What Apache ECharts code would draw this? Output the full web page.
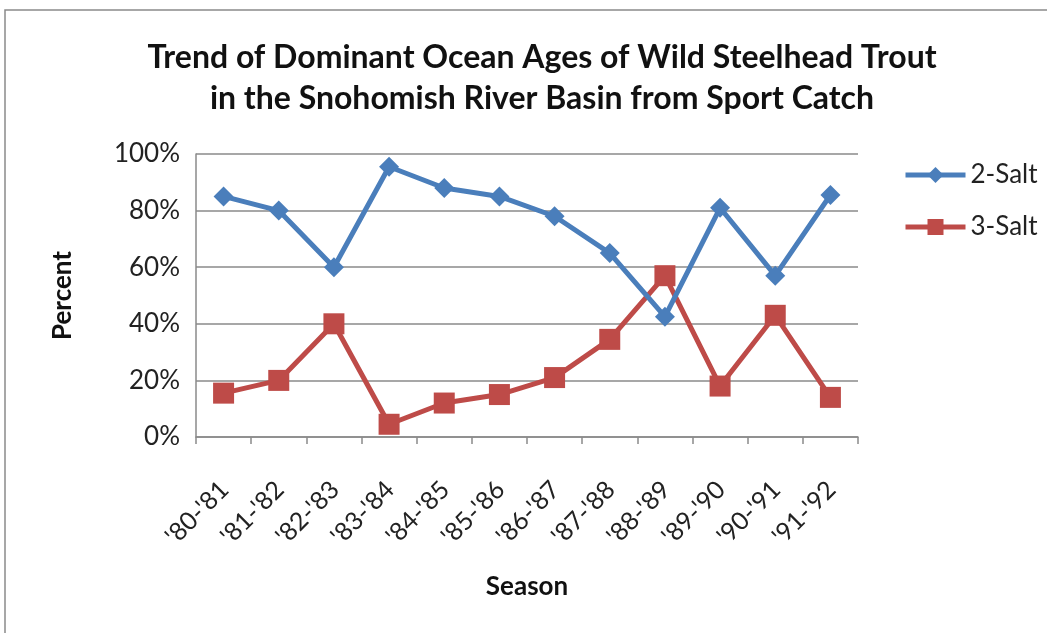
<!DOCTYPE html>
<html>
<head>
<meta charset="utf-8">
<script src="https://cdn.jsdelivr.net/npm/echarts@6/dist/echarts.min.js"></script>
<style>
  html, body { margin: 0; padding: 0; background: #ffffff; }
  #chart { width: 1047px; height: 633px; }
</style>
</head>
<body>
<div id="chart"></div>
<script>
// Seasons of sport catch
const seasons = ["'80-'81", "'81-'82", "'82-'83", "'83-'84", "'84-'85", "'85-'86",
                 "'86-'87", "'87-'88", "'88-'89", "'89-'90", "'90-'91", "'91-'92"];
// Share of catch by ocean age (percent)
const twoSalt = [85, 80, 60, 95.5, 88, 85, 78, 65, 42.5, 81, 57, 85.5];
const threeSalt = [15.5, 20, 40, 4.5, 12, 15, 21, 34.5, 57, 18, 43, 14];
// Value-axis ticks
const percentTicks = [0, 20, 40, 60, 80, 100];

const FONT = 'Lato';
const BLUE = '#4A7EBB';
const RED = '#BE4B48';
const chart = echarts.init(document.getElementById('chart'), null, { renderer: 'canvas' });

chart.setOption({
  backgroundColor: '#ffffff',
  animation: false,
  graphic: [{
    type: 'rect',
    shape: { x: 5, y: 10, width: 1060, height: 640 },
    style: { fill: 'none', stroke: '#8a8a8a', lineWidth: 1.5 },
    silent: true
  }],
  title: {
    text: 'Trend of Dominant Ocean Ages of Wild Steelhead Trout\nin the Snohomish River Basin from Sport Catch',
    left: 537,
    textAlign: 'center',
    top: 32,
    textStyle: {
      fontFamily: FONT, fontWeight: 'bold', fontSize: 32, color: '#111111',
      lineHeight: 41
    }
  },
  legend: {
    orient: 'vertical',
    left: 898,
    top: 157,
    itemGap: 26,
    itemWidth: 60,
    itemHeight: 20,
    lineStyle: { width: 5 },
    textStyle: { fontFamily: FONT, fontSize: 26, color: '#222222' },
    data: ['2-Salt', '3-Salt']
  },
  grid: { left: 196, right: 189, top: 154, bottom: 196, containLabel: false },
  xAxis: {
    type: 'category',
    data: seasons,
    boundaryGap: true,
    name: 'Season',
    nameLocation: 'middle',
    nameGap: 137,
    nameTextStyle: { fontFamily: FONT, fontWeight: 'bold', fontSize: 26, color: '#111111' },
    axisLine: { show: true, lineStyle: { color: '#8a8a8a', width: 1.5 } },
    axisTick: { show: true, inside: false, length: 7, interval: 0, alignWithLabel: false,
                lineStyle: { color: '#8a8a8a', width: 1.5 } },
    axisLabel: { rotate: 45, interval: 0, margin: 32, verticalAlign: 'top', align: 'right',
                 padding: [0, 11, 0, 0],
                 fontFamily: FONT, fontSize: 25, color: '#222222' },
    splitLine: { show: false }
  },
  yAxis: {
    type: 'value',
    min: percentTicks[0],
    max: percentTicks[percentTicks.length - 1],
    interval: 20,
    name: 'Percent',
    nameLocation: 'middle',
    nameGap: 120,
    nameRotate: 90,
    nameTextStyle: { fontFamily: FONT, fontWeight: 'bold', fontSize: 26, color: '#111111' },
    axisLine: { show: true, lineStyle: { color: '#8a8a8a', width: 1.5 } },
    axisTick: { show: false },
    axisLabel: { formatter: '{value}%', margin: 16, fontFamily: FONT, fontSize: 26, color: '#222222' },
    splitLine: { show: true, lineStyle: { color: '#8a8a8a', width: 1.5 } }
  },
  series: [
    {
      name: '2-Salt',
      type: 'line',
      data: twoSalt,
      symbol: 'diamond',
      symbolSize: 20,
      lineStyle: { color: BLUE, width: 5 },
      itemStyle: { color: BLUE },
      z: 3
    },
    {
      name: '3-Salt',
      type: 'line',
      data: threeSalt,
      symbol: 'rect',
      symbolSize: 21,
      lineStyle: { color: RED, width: 5 },
      itemStyle: { color: RED },
      z: 2
    }
  ]
});
</script>
</body>
</html>
